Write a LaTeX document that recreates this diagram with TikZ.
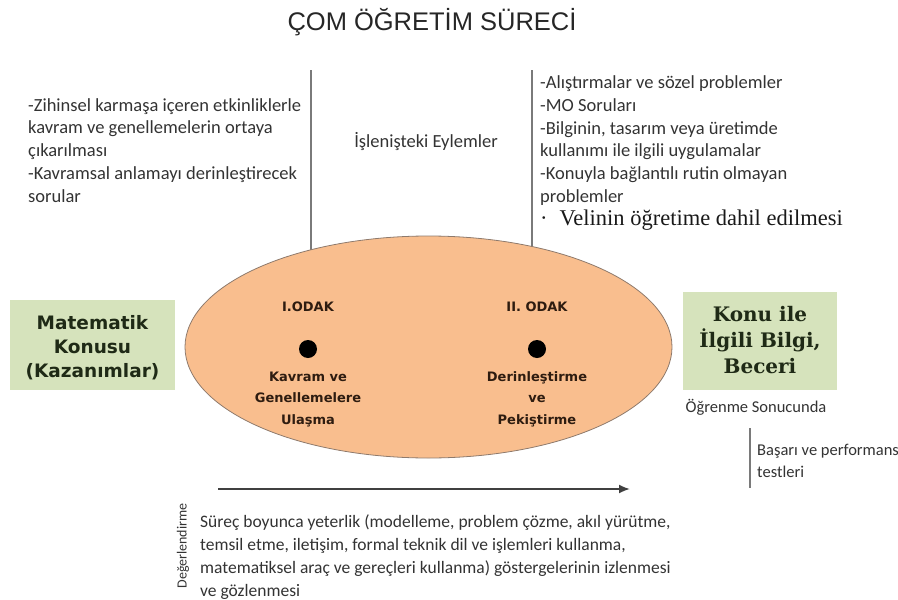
\documentclass[tikz,border=0pt]{standalone}
\usepackage{fontspec}
\setmainfont{Carlito}
\newfontfamily\headfont{Liberation Sans}
\newfontfamily\serifnote{Liberation Serif}
\newfontfamily\boxsans{DejaVu Sans}
\newfontfamily\boxserif{DejaVu Serif}
\usetikzlibrary{shapes.geometric,arrows.meta}

\definecolor{bodytext}{HTML}{333333}
\definecolor{rulegray}{HTML}{7A7A7A}
\definecolor{focusfill}{HTML}{F9BE8E}
\definecolor{focusedge}{HTML}{8E7A6C}
\definecolor{boxfill}{HTML}{D6E3BC}
\definecolor{boxtext}{HTML}{1F2A16}
\definecolor{focustext}{HTML}{2E1C10}

\tikzset{
  bodynote/.style={inner sep=0pt, text=bodytext, align=left,
    font=\fontsize{18.5}{22.8}\selectfont},
  lownote/.style={inner sep=0pt, text=bodytext, align=left,
    font=\fontsize{17.5}{22.9}\selectfont},
  smallnote/.style={inner sep=0pt, text=bodytext, align=left,
    font=\fontsize{16.5}{22}\selectfont},
  divider/.style={draw=rulegray, line width=1.6pt},
  goalbox/.style={fill=boxfill, draw=none, inner sep=0pt},
  goaltext/.style={inner sep=0pt, align=center, text=boxtext},
  focuslabel/.style={inner sep=0pt, align=center, text=focustext,
    font=\boxsans\bfseries\fontsize{13}{21.5}\selectfont},
  focusdot/.style={circle, fill=black, inner sep=0pt, minimum size=18pt}
}

\begin{document}
\begin{tikzpicture}[x=1pt, y=-1pt]
\useasboundingbox (0,0) rectangle (898,600);

% title
\node[anchor=base, inner sep=0pt, text=black!85,
      font=\headfont\fontsize{25.5}{30}\selectfont] (title) at (432,30) {ÇOM ÖĞRETİM SÜRECİ};

% dividers above the ellipse (their lower ends disappear under it)
\coordinate (v1top) at (311,70);  \coordinate (v1bot) at (311,262);
\coordinate (v2top) at (532,70);  \coordinate (v2bot) at (532,262);
\draw[divider] (v1top) -- (v1bot);
\draw[divider] (v2top) -- (v2bot);

% activities, left column
\node[bodynote, anchor=north west] (leftacts) at (28,98)
  {-Zihinsel karmaşa içeren etkinliklerle\\
   kavram ve genellemelerin ortaya\\
   çıkarılması\\
   -Kavramsal anlamayı derinleştirecek\\
   sorular};

% middle caption
\node[bodynote, anchor=center] (actions) at (426,142) {İşlenişteki Eylemler};

% activities, right column
\node[bodynote, anchor=north west] (rightacts) at (540,75.5)
  {-Alıştırmalar ve sözel problemler\\
   -MO Soruları\\
   -Bilginin, tasarım veya üretimde\\
   kullanımı ile ilgili uygulamalar\\
   -Konuyla bağlantılı rutin olmayan\\
   problemler};
\node[inner sep=0pt, anchor=west, text=black!90,
      font=\serifnote\fontsize{22.5}{24}\selectfont] (parents) at (540,220)
  {·\hspace{12pt}Velinin öğretime dahil edilmesi};

% the two foci
\node[ellipse, fill=focusfill, draw=focusedge, line width=0.8pt,
      minimum width=487pt, minimum height=222pt, inner sep=0pt] (focus) at (428.5,347) {};

\node[focuslabel] (odak1) at (308,307) {I.ODAK};
\node[focusdot] (dot1) at (308,349) {};
\node[focuslabel] (odak1txt) at (308,398.5) {\strut Kavram ve\\Genellemelere\\Ulaşma\strut};

\node[focuslabel] (odak2) at (537,307) {II. ODAK};
\node[focusdot] (dot2) at (537,349) {};
\node[focuslabel] (odak2txt) at (537,398.5) {\strut Derinleştirme\\ve\\Pekiştirme\strut};

% input and outcome boxes
\node[goalbox, minimum width=165pt, minimum height=90pt] (topic) at (92.5,345) {};
\node[goaltext, font=\boxsans\bfseries\fontsize{18.5}{24}\selectfont] (topictxt) at (92.5,347.5)
  {Matematik\\Konusu\\(Kazanımlar)};
\node[goalbox, minimum width=154pt, minimum height=98pt] (outcome) at (760,341) {};
\node[goaltext, font=\boxserif\bfseries\fontsize{20}{26}\selectfont] (outcometxt) at (760,340)
  {Konu ile\\İlgili Bilgi,\\Beceri};

\node[smallnote, anchor=center] (result) at (756,407) {Öğrenme Sonucunda};

\coordinate (v3top) at (750,428); \coordinate (v3bot) at (750,488);
\draw[divider, line width=1.3pt] (v3top) -- (v3bot);
\node[smallnote, anchor=north west] (tests) at (757,444) {Başarı ve performans\\testleri};

% process arrow
\coordinate (arrstart) at (218,489); \coordinate (arrend) at (630,489);
\draw[draw=black!75, line width=1.8pt, -{Latex[length=11pt,width=9pt]}] (arrstart) -- (arrend);

% evaluation
\node[inner sep=0pt, rotate=90, text=bodytext,
      font=\fontsize{14}{14}\selectfont] (evaltag) at (183,546) {Değerlendirme};
\node[lownote, anchor=north west] (evaltext) at (200,515)
  {Süreç boyunca yeterlik (modelleme, problem çözme, akıl yürütme,\\
   temsil etme, iletişim, formal teknik dil ve işlemleri kullanma,\\
   matematiksel araç ve gereçleri kullanma) göstergelerinin izlenmesi\\
   ve gözlenmesi};
\end{tikzpicture}
\end{document}
